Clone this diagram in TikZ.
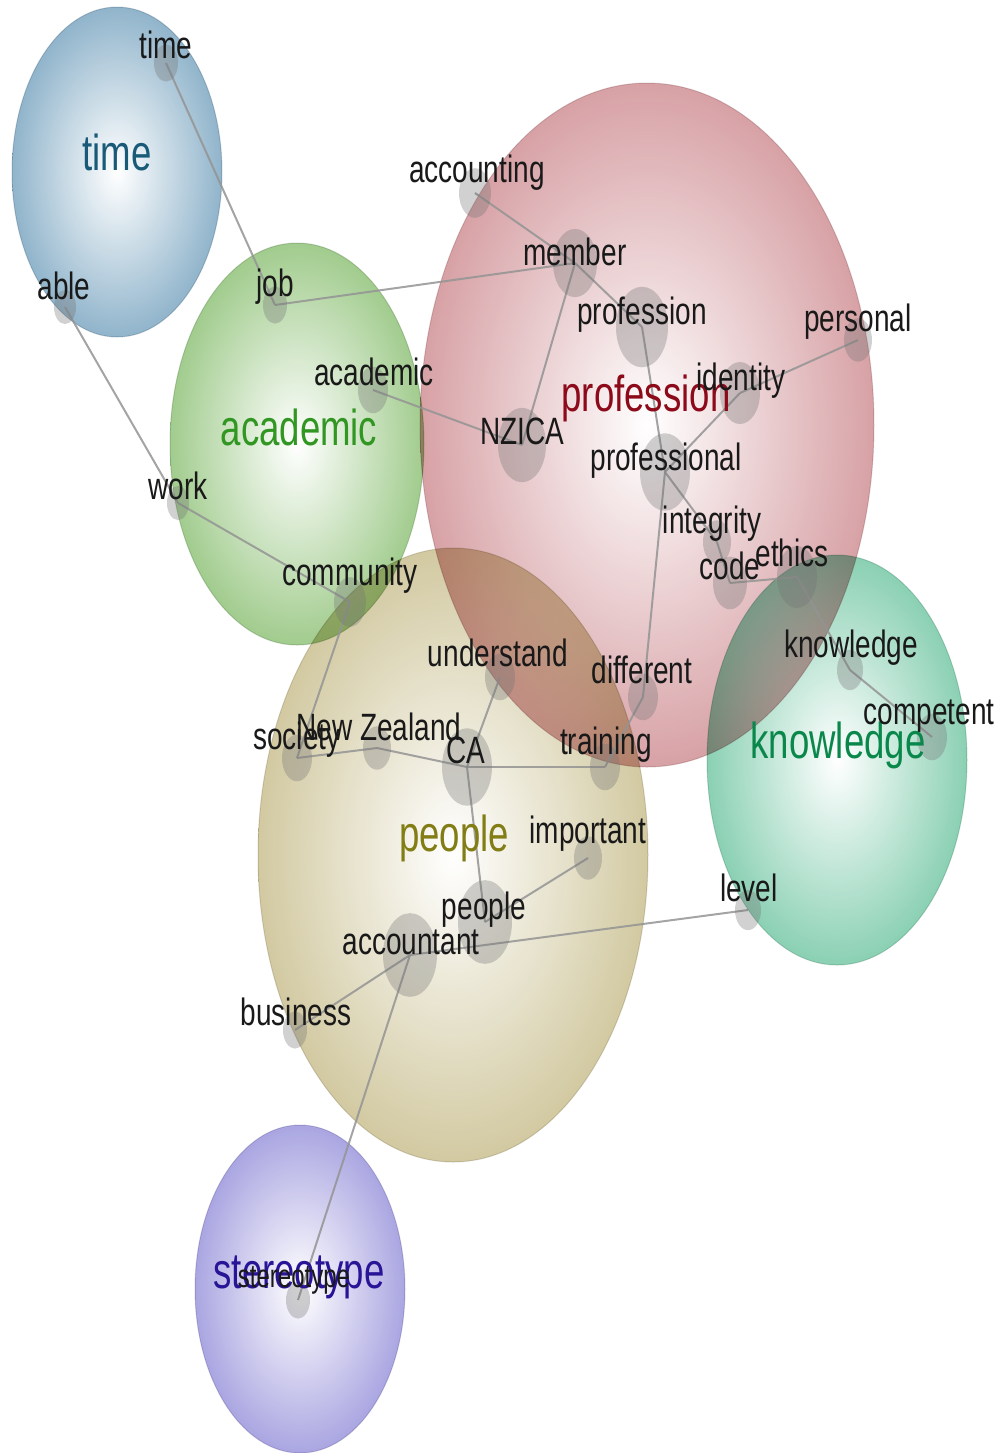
\documentclass[tikz,border=0pt]{standalone}
\usepackage{fontspec}
\setmainfont{Liberation Sans}
\usetikzlibrary{shapes.geometric}
\definecolor{cTime}{RGB}{125,167,194}
\definecolor{cAcad}{RGB}{145,195,122}
\definecolor{cProf}{RGB}{208,145,150}
\definecolor{cKnow}{RGB}{118,200,166}
\definecolor{cPeop}{RGB}{202,192,145}
\definecolor{cSter}{RGB}{155,150,220}
\definecolor{tTime}{RGB}{25,90,120}
\definecolor{tAcad}{RGB}{50,150,35}
\definecolor{tProf}{RGB}{140,10,25}
\definecolor{tKnow}{RGB}{10,135,75}
\definecolor{tPeop}{RGB}{130,125,20}
\definecolor{tSter}{RGB}{40,20,150}
\begin{document}
\begin{tikzpicture}[x=0.5pt,y=-0.5pt,
  themeC/.style={ellipse, inner sep=0pt, inner color=white, fill opacity=0.85, draw opacity=0.3, line width=0.5pt},
  lbl/.style={inner sep=0pt, font=\fontsize{14}{15}\selectfont, text=black!90, yscale=1.36},
  big/.style={inner sep=0pt, font=\fontsize{18.3}{19}\selectfont, yscale=1.38},
  dotn/.style={ellipse, draw=none, fill=black!55, fill opacity=0.33, inner sep=0pt},
  link/.style={draw=black!42, line width=1pt, draw opacity=0.85}]
\useasboundingbox (0,0) rectangle (1003,1453);
% theme circles
\begin{scope}[blend mode=multiply]
\node[themeC, outer color=cTime, draw=cTime!70!black, minimum width=105pt, minimum height=165pt] (thTime) at (117,172) {};
\node[themeC, outer color=cProf, draw=cProf!70!black, minimum width=227pt, minimum height=342pt] (thProf) at (647,425) {};
\node[themeC, outer color=cAcad, draw=cAcad!70!black, minimum width=127pt, minimum height=201pt] (thAcad) at (297,444) {};
\node[themeC, outer color=cKnow, draw=cKnow!70!black, minimum width=130pt, minimum height=205pt] (thKnow) at (837,760) {};
\node[themeC, outer color=cPeop, draw=cPeop!70!black, minimum width=195pt, minimum height=307pt] (thPeop) at (453,855) {};
\node[themeC, outer color=cSter, draw=cSter!70!black, minimum width=105pt, minimum height=164pt] (thSter) at (300,1289) {};
\end{scope}
% dot centres
\coordinate (pTime) at (166,63);
\coordinate (pAble) at (65,307);
\coordinate (pJob) at (275,305);
\coordinate (pAcad) at (373,390);
\coordinate (pWork) at (178,503);
\coordinate (pAcct) at (475,193);
\coordinate (pMemb) at (575,263);
\coordinate (pProf) at (642,327);
\coordinate (pPers) at (858,340);
\coordinate (pIden) at (740,393);
\coordinate (pNZI) at (522,445);
\coordinate (pProl) at (665,472);
\coordinate (pInte) at (717,542);
\coordinate (pCode) at (730,583);
\coordinate (pEthi) at (797,577);
\coordinate (pKnow) at (850,670);
\coordinate (pComp) at (932,737);
\coordinate (pLeve) at (748,910);
\coordinate (pComm) at (350,602);
\coordinate (pUnde) at (500,677);
\coordinate (pDiff) at (643,697);
\coordinate (pSoci) at (297,758);
\coordinate (pNZ) at (377,748);
\coordinate (pCA) at (467,767);
\coordinate (pTrai) at (605,767);
\coordinate (pImpo) at (588,858);
\coordinate (pPeop) at (485,922);
\coordinate (pAcnt) at (410,955);
\coordinate (pBusi) at (295,1030);
\coordinate (pSter) at (298,1300);
% links
\draw[link] (pTime) -- (pJob);
\draw[link] (pAble) -- (pWork);
\draw[link] (pWork) -- (pComm);
\draw[link] (pJob) -- (pMemb);
\draw[link] (pAcct) -- (pMemb);
\draw[link] (pMemb) -- (pProf);
\draw[link] (pMemb) -- (pNZI);
\draw[link] (pAcad) -- (pNZI);
\draw[link] (pProf) -- (pProl);
\draw[link] (pProl) -- (pIden);
\draw[link] (pIden) -- (pPers);
\draw[link] (pProl) -- (pInte);
\draw[link] (pInte) -- (pCode);
\draw[link] (pCode) -- (pEthi);
\draw[link] (pEthi) -- (pKnow);
\draw[link] (pKnow) -- (pComp);
\draw[link] (pProl) -- (pDiff);
\draw[link] (pDiff) -- (pTrai);
\draw[link] (pComm) -- (pSoci);
\draw[link] (pSoci) -- (pNZ);
\draw[link] (pNZ) -- (pCA);
\draw[link] (pCA) -- (pUnde);
\draw[link] (pCA) -- (pTrai);
\draw[link] (pCA) -- (pPeop);
\draw[link] (pPeop) -- (pImpo);
\draw[link] (pAcnt) -- (pLeve);
\draw[link] (pAcnt) -- (pBusi);
\draw[link] (pAcnt) -- (pSter);
% dots
\foreach \p/\r in {Time/12,Able/11,Job/12,Acad/15,Work/11,Acct/16,Memb/22,Prof/26,Pers/14,Iden/20,NZI/24,Prol/25,Inte/14,Code/17,Ethi/20,Know/13,Comp/15,Leve/13,Comm/16,Unde/15,Diff/15,Soci/15,NZ/14,CA/25,Trai/15,Impo/14,Peop/27,Acnt/27,Busi/12,Ster/12}
  \node[dotn, minimum width=\r pt, minimum height=1.55*\r pt] (d\p) at (p\p) {};
% big theme labels
\node[big, text=tTime] (bTime) at (117,152) {time};
\node[big, text=tAcad] (bAcad) at (299,427) {academic};
\node[big, text=tProf] (bProf) at (646,398) {profession};
\node[big, text=tKnow] (bKnow) at (838,745) {knowledge};
\node[big, text=tPeop] (bPeop) at (454,838) {people};
\node[big, text=tSter] (bSter) at (299,1277) {stereotype};
% concept labels
\node[lbl] (lTime) at (166,45) {time};
\node[lbl] (lAble) at (64,286) {able};
\node[lbl] (lJob) at (275,287) {job};
\node[lbl] (lAcad) at (374,372) {academic};
\node[lbl] (lWork) at (178,486) {work};
\node[lbl] (lAcct) at (477,173) {accounting};
\node[lbl] (lMemb) at (575,252) {member};
\node[lbl] (lProf) at (642,315) {profession};
\node[lbl] (lPers) at (858,322) {personal};
\node[lbl] (lIden) at (741,381) {identity};
\node[lbl] (lNZI) at (522,431) {NZICA};
\node[lbl] (lProl) at (666,461) {professional};
\node[lbl] (lInte) at (712,524) {integrity};
\node[lbl] (lCode) at (730,566) {code};
\node[lbl] (lEthi) at (792,553) {ethics};
\node[lbl] (lKnow) at (851,648) {knowledge};
\node[lbl] (lComp) at (929,716) {competent};
\node[lbl] (lLeve) at (749,888) {level};
\node[lbl] (lComm) at (350,576) {community};
\node[lbl] (lUnde) at (498,653) {understand};
\node[lbl] (lDiff) at (642,670) {different};
\node[lbl] (lSoci) at (297,740) {society};
\node[lbl] (lNZ) at (379,727) {New Zealand};
\node[lbl] (lCA) at (466,750) {CA};
\node[lbl] (lTrai) at (606,745) {training};
\node[lbl] (lImpo) at (588,834) {important};
\node[lbl] (lPeop) at (484,910) {people};
\node[lbl] (lAcnt) at (411,942) {accountant};
\node[lbl] (lBusi) at (296,1012) {business};
\node[lbl, font=\fontsize{12}{13}\selectfont] (lSter) at (294,1280) {stereotype};
\end{tikzpicture}
\end{document}
